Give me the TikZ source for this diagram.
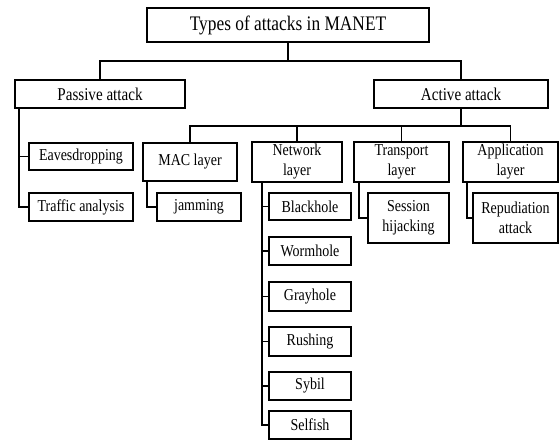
\documentclass[tikz,border=0pt]{standalone}
\usepackage{fontspec}
\setmainfont{Liberation Serif}[FakeStretch=0.84]
\begin{document}
\begin{tikzpicture}[x=0.75pt,y=-0.75pt,
  box/.style={draw, line width=1.1pt, inner sep=0pt, align=center,
    font=\fontsize{12.5}{15}\selectfont},
  sz/.style 2 args={minimum width=#1*0.75pt, minimum height=#2*0.75pt},
  link/.style={line width=1.1pt}]

\useasboundingbox (0,0) rectangle (560,440);

% Goc
\node[box, sz={282}{34}, font=\fontsize{15.5}{18}\selectfont] (title) at (288,25) {Types of attacks in MANET};

% Hai loai tan cong
\node[box, sz={170}{28}, font=\fontsize{13.5}{16}\selectfont] (passive) at (100,94) {Passive attack};
\node[box, sz={174}{28}, font=\fontsize{13.5}{16}\selectfont] (active) at (461,94) {Active attack};

% Passive
\node[box, sz={104}{27}] (eaves) at (81,156.5) {Eavesdropping};
\node[box, sz={104}{28}] (traffic) at (81,207) {Traffic analysis};

% Cac lop
\node[box, sz={94}{38}] (mac) at (190,162) {MAC layer};
\node[box, sz={90}{40}] (network) at (297,162) {Network\\layer};
\node[box, sz={95}{40}] (transport) at (401.5,162) {Transport\\layer};
\node[box, sz={95}{40}] (application) at (510.5,162) {Application\\layer};

% La
\node[box, sz={84}{28}] (jamming) at (199,207) {jamming};
\node[box, sz={82}{27}] (blackhole) at (310,206.5) {Blackhole};
\node[box, sz={82}{28}] (wormhole) at (310,251) {Wormhole};
\node[box, sz={82}{29}] (grayhole) at (310,296.5) {Grayhole};
\node[box, sz={82}{29}] (rushing) at (310,341.5) {Rushing};
\node[box, sz={82}{28}] (sybil) at (310,386) {Sybil};
\node[box, sz={82}{28}] (selfish) at (310,425) {Selfish};
\node[box, sz={81}{50}] (session) at (408.5,218) {Session\\hijacking};
\node[box, sz={85}{50}] (repudiation) at (515.5,218) {Repudiation\\attack};

% Noi goc
\coordinate (j1) at (288,61);
\draw[link] (title.south) -- (j1) -| (passive.north);
\draw[link] (j1) -| (active.north);

% Noi passive
\coordinate (pv) at (19,108);
\draw[link] (pv) |- (eaves.west);
\draw[link] (pv) |- (traffic.west);

% Noi active
\coordinate (j2) at (461,126);
\draw[link] (active.south) -- (j2) -| (mac.north);
\draw[link] (j2) -| (network.north);
\draw[link] (j2) -| (transport.north);
\draw[link] (j2) -| (application.north);

% Noi cac lop
\coordinate (mv) at (147,181);
\draw[link] (mv) |- (jamming.west);
\coordinate (nv) at (262,182);
\foreach \n in {blackhole,wormhole,grayhole,rushing,sybil,selfish}
  \draw[link] (nv) |- (\n.west);
\coordinate (tv) at (359,182);
\draw[link] (tv) |- (session.west);
\coordinate (av) at (467,182);
\draw[link] (av) |- (repudiation.west);

\end{tikzpicture}
\end{document}
